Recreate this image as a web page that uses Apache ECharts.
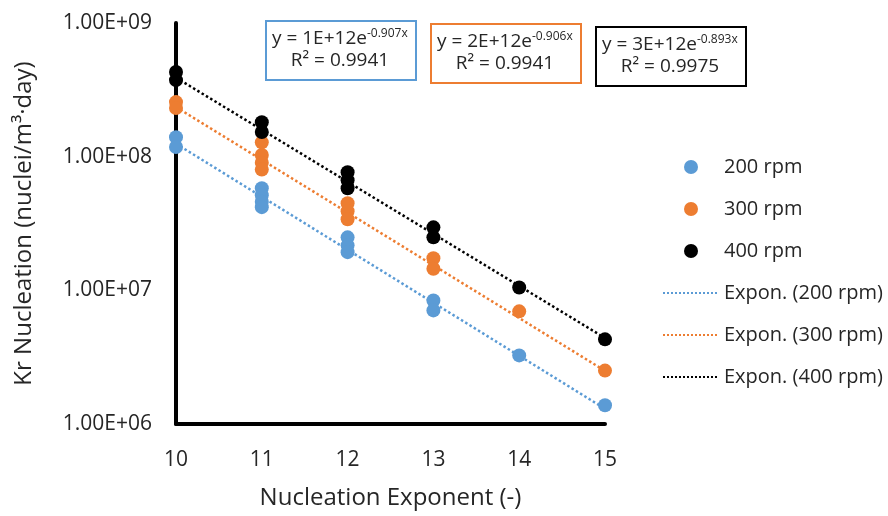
<!DOCTYPE html>
<html lang="en">
<head>
    <meta charset="UTF-8">
    <title>Kr Nucleation</title>
    <script src="https://cdn.jsdelivr.net/npm/echarts@6/dist/echarts.min.js"></script>
    <style>
        html, body { margin: 0; padding: 0; background: #fff; }
        #chart { width: 888px; height: 516px; }
    </style>
</head>
<body>
<div id="chart"></div>
<script>
    // data
    var x200 = [10, 10, 11, 11, 11, 11, 12, 12, 12, 13, 13, 14, 15];
    var y200 = [1.40e8, 1.18e8, 5.8e7, 5.15e7, 4.6e7, 4.19e7, 2.49e7, 2.17e7, 1.93e7, 8.4e6, 7.08e6, 3.26e6, 1.38e6];
    var x300 = [10, 10, 11, 11, 11, 11, 12, 12, 12, 13, 13, 14, 15];
    var y300 = [2.56e8, 2.31e8, 1.28e8, 1.03e8, 9.0e7, 8.0e7, 4.49e7, 3.91e7, 3.4e7, 1.74e7, 1.45e7, 6.96e6, 2.51e6];
    var x400 = [10, 10, 11, 11, 12, 12, 12, 13, 13, 14, 15];
    var y400 = [4.3e8, 3.74e8, 1.81e8, 1.53e8, 7.65e7, 6.67e7, 5.8e7, 2.96e7, 2.49e7, 1.05e7, 4.3e6];

    // trendline end points (straight on log axis)
    var trendX = [10, 15];
    var trend200 = [1.25e8, 1.3e6];
    var trend300 = [2.35e8, 2.5e6];
    var trend400 = [3.9e8, 4.4e6];

    var yTicks = [1e6, 1e7, 1e8, 1e9];
    var yTickLabels = ['1.00E+06', '1.00E+07', '1.00E+08', '1.00E+09'];

    var seriesNames = ['200 rpm', '300 rpm', '400 rpm'];
    var trendNames = ['Expon. (200 rpm)', 'Expon. (300 rpm)', 'Expon. (400 rpm)'];
    var colors = ['#5B9BD5', '#ED7D31', '#000000'];
    var equations = ['y = 1E+12e', 'y = 2E+12e', 'y = 3E+12e'];
    var exponents = ['-0.907x', '-0.906x', '-0.893x'];
    var r2 = ['R\u00b2 = 0.9941', 'R\u00b2 = 0.9941', 'R\u00b2 = 0.9975'];

    function pairs(xs, ys) {
        return xs.map(function (x, i) { return [x, ys[i]]; });
    }

    var font = 'Open Sans';
    var textColor = '#262626';

    var scatterData = [pairs(x200, y200), pairs(x300, y300), pairs(x400, y400)];
    var trendData = [pairs(trendX, trend200), pairs(trendX, trend300), pairs(trendX, trend400)];

    var series = [];
    trendData.forEach(function (d, i) {
        series.push({
            name: trendNames[i],
            type: 'line',
            data: d,
            symbol: 'none',
            z: 1,
            itemStyle: { color: colors[i] },
            lineStyle: { color: colors[i], width: 2.5, type: 'dotted' }
        });
    });
    scatterData.forEach(function (d, i) {
        series.push({
            name: seriesNames[i],
            type: 'scatter',
            data: d,
            symbolSize: 14,
            z: 3,
            itemStyle: { color: colors[i], opacity: 1 }
        });
    });

    // equation boxes
    var boxLeft = [265, 430, 595];
    var boxTop = [20, 23, 26];
    var graphics = [];
    equations.forEach(function (eq, i) {
        graphics.push({
            type: 'rect',
            left: boxLeft[i], top: boxTop[i],
            shape: { width: 150, height: 59 },
            style: { fill: '#fff', stroke: colors[i], lineWidth: 2 },
            z: 10
        });
        graphics.push({
            type: 'text',
            left: boxLeft[i] + 7, top: boxTop[i] + 8,
            style: {
                text: '{a|' + eq + '}{s|' + exponents[i] + '}\n{b|' + r2[i] + '}',
                rich: {
                    a: { fontFamily: font, fontSize: 19, fill: textColor, lineHeight: 22 },
                    s: { fontFamily: font, fontSize: 12, fill: textColor, verticalAlign: 'top', lineHeight: 22 },
                    b: { fontFamily: font, fontSize: 19, fill: textColor, lineHeight: 22, width: 136, align: 'center' }
                }
            },
            z: 11
        });
    });

    var legendData = seriesNames.map(function (n) { return { name: n }; })
        .concat(trendNames.map(function (n) { return { name: n, itemStyle: { opacity: 0 } }; }));

    var chart = echarts.init(document.getElementById('chart'));
    chart.setOption({
        animation: false,
        color: colors,
        textStyle: { fontFamily: font },
        grid: { left: 176, right: 283, top: 23, bottom: 92, containLabel: false, outerBoundsMode: 'none' },
        legend: {
            orient: 'vertical',
            left: 657, top: 152,
            itemWidth: 56, itemHeight: 14, itemGap: 22,
            data: legendData,
            textStyle: { fontFamily: font, fontSize: 20, color: textColor, lineHeight: 20 }
        },
        xAxis: {
            type: 'value',
            min: 10, max: 15, interval: 1,
            name: 'Nucleation Exponent (-)',
            nameLocation: 'middle', nameGap: 62,
            nameTextStyle: { fontFamily: font, fontSize: 24, color: textColor },
            axisLine: { show: true, onZero: false, lineStyle: { color: '#000', width: 4 } },
            axisTick: { show: false },
            splitLine: { show: false },
            axisLabel: { fontFamily: font, fontSize: 21, color: textColor, margin: 26 }
        },
        yAxis: {
            type: 'log',
            logBase: 10,
            min: 1e6, max: 1e9,
            name: 'Kr Nucleation (nuclei/m\u00b3\u00b7day)',
            nameLocation: 'middle', nameGap: 140,
            nameTextStyle: { fontFamily: font, fontSize: 24, color: textColor },
            axisLine: { show: true, onZero: false, lineStyle: { color: '#000', width: 4 } },
            axisTick: { show: false },
            splitLine: { show: false },
            axisLabel: {
                fontFamily: font, fontSize: 21, color: textColor, margin: 24,
                formatter: function (v) {
                    var k = yTicks.findIndex(function (t) { return Math.abs(t - v) / t < 1e-6; });
                    return k >= 0 ? yTickLabels[k] : '';
                }
            }
        },
        series: series,
        graphic: graphics
    });
</script>
</body>
</html>
